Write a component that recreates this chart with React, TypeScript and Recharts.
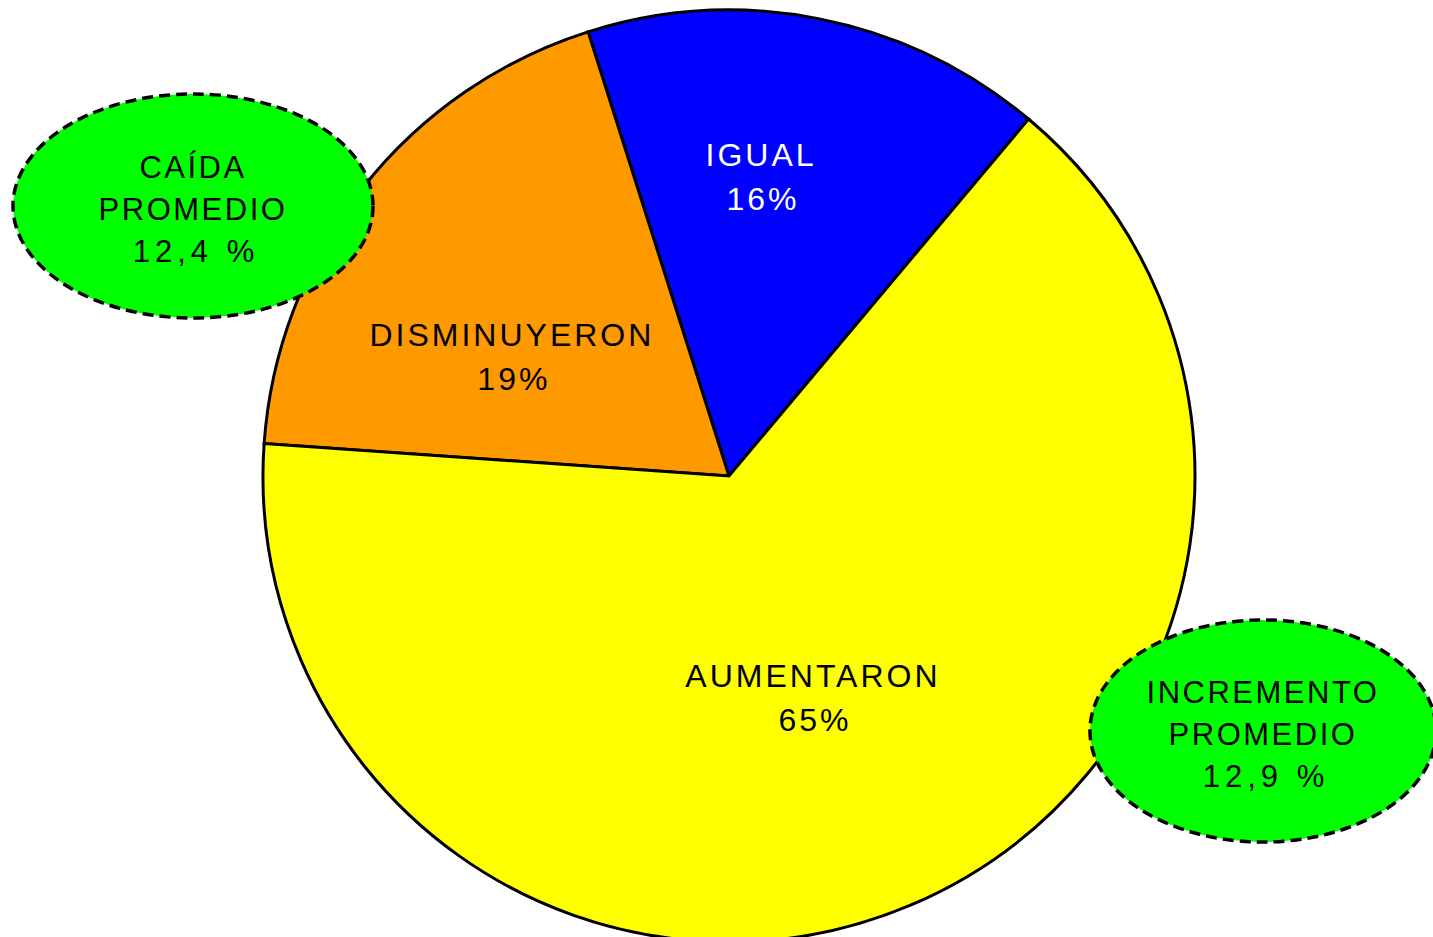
import { PieChart, Pie, Cell } from "recharts";

const categories = ["IGUAL", "DISMINUYERON", "AUMENTARON"];
const shares = [16, 19, 65];
const sliceColors = ["#0000ff", "#ff9900", "#ffff00"];
const labelColors = ["#ffffff", "#000000", "#000000"];

const noteTitles = [
  ["CAÍDA", "PROMEDIO"],
  ["INCREMENTO", "PROMEDIO"],
];
const noteValues = ["12,4 %", "12,9 %"];

const data = categories.map((name, i) => ({ name, value: shares[i] }));

const FONT = "'Liberation Sans', Arial, sans-serif";

// label anchor in polar terms relative to the pie (fraction of radius, angle in degrees)
const labelPlacement = [
  { r: 0.669, a: 84.1 },
  { r: 0.543, a: 149.1 },
  { r: 0.487, a: -68.3 },
];

const RAD = Math.PI / 180;

function renderLabel(props: any) {
  const { cx, cy, outerRadius, index } = props;
  const p = labelPlacement[index];
  const x = cx + outerRadius * p.r * Math.cos(p.a * RAD);
  const y = cy - outerRadius * p.r * Math.sin(p.a * RAD);
  return (
    <text
      key={`lbl-${index}`}
      x={x}
      y={y}
      textAnchor="middle"
      fill={labelColors[index]}
      fontFamily={FONT}
      fontSize={32}
      letterSpacing={3}
    >
      <tspan x={x} y={y}>
        {categories[index]}
      </tspan>
      <tspan x={x + 2} y={y + 44}>
        {shares[index]}%
      </tspan>
    </text>
  );
}

const notes = [
  { cx: 193, cy: 206, rx: 180, ry: 112 },
  { cx: 1263, cy: 731, rx: 173, ry: 111 },
];

function Notes() {
  return (
    <svg
      width={1433}
      height={937}
      style={{ position: "absolute", left: 0, top: 0, pointerEvents: "none" }}
    >
      {notes.map((n, i) => (
        <g key={i}>
          <ellipse
            cx={n.cx}
            cy={n.cy}
            rx={n.rx}
            ry={n.ry}
            fill="#00ff00"
            stroke="#000"
            strokeWidth={3.5}
            strokeDasharray="11 6"
          />
          <text
            textAnchor="middle"
            fontFamily={FONT}
            fontSize={31}
            letterSpacing={2.5}
            fill="#000"
          >
            <tspan x={n.cx} y={n.cy - 28}>
              {noteTitles[i][0]}
            </tspan>
            <tspan x={n.cx} y={n.cy + 14}>
              {noteTitles[i][1]}
            </tspan>
            <tspan x={n.cx + 3} y={n.cy + 56} letterSpacing={5}>
              {noteValues[i]}
            </tspan>
          </text>
        </g>
      ))}
    </svg>
  );
}

export default function App() {
  return (
    <div
      style={{
        position: "absolute",
        left: 0,
        top: 0,
        width: 1433,
        height: 937,
        background: "#fff",
        overflow: "hidden",
      }}
    >
      <PieChart width={1433} height={937} margin={{ top: 0, right: 0, bottom: 0, left: 0 }}>
        <Pie
          data={data}
          dataKey="value"
          nameKey="name"
          cx={729}
          cy={476}
          innerRadius={0}
          outerRadius={466}
          startAngle={50}
          endAngle={410}
          stroke="#000"
          strokeWidth={3}
          label={renderLabel}
          labelLine={false}
          isAnimationActive={false}
        >
          {data.map((d, i) => (
            <Cell key={d.name} fill={sliceColors[i]} />
          ))}
        </Pie>
      </PieChart>
      <Notes />
    </div>
  );
}
